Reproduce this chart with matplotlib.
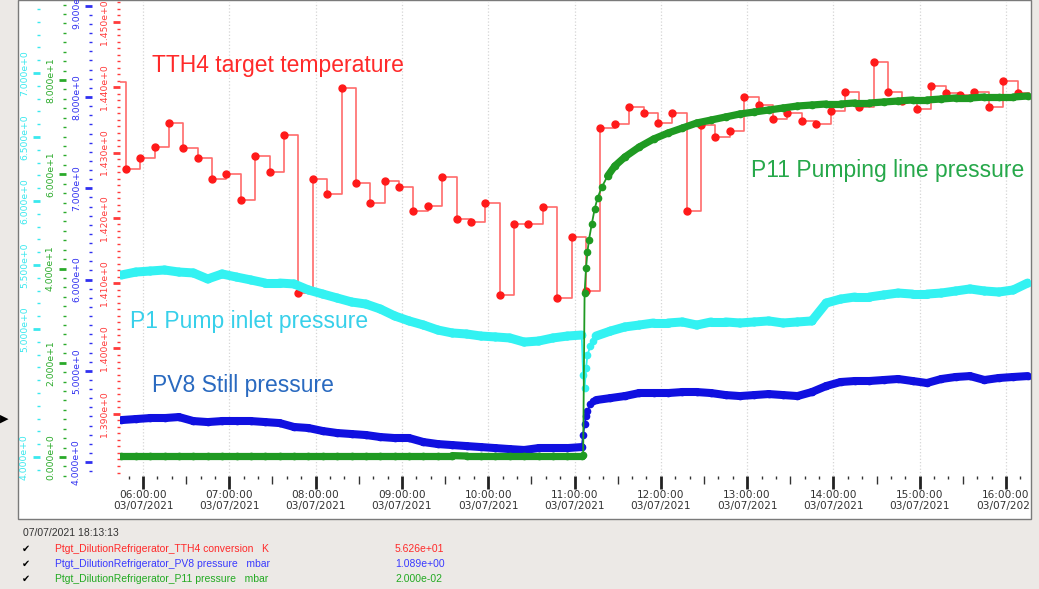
import matplotlib
matplotlib.use('Agg')
import numpy as np
import pandas as pd
import matplotlib.pyplot as plt
import matplotlib.dates as mdates
import matplotlib.ticker as mticker
from matplotlib.collections import LineCollection
from matplotlib.patches import Rectangle
from matplotlib.transforms import Bbox, TransformedBbox

DAY = '2021-07-03 '

# TTH4 target temperature (K), one reading every 10 min
tth4_times = ['05:38', '05:48', '05:58', '06:08', '06:18', '06:28', '06:38', '06:48',
              '06:58', '07:08', '07:18', '07:28', '07:38', '07:48', '07:58', '08:08',
              '08:18', '08:28', '08:38', '08:48', '08:58', '09:08', '09:18', '09:28',
              '09:38', '09:48', '09:58', '10:08', '10:18', '10:28', '10:38', '10:48',
              '10:58', '11:08', '11:18', '11:28', '11:38', '11:48', '11:58', '12:08',
              '12:18', '12:28', '12:38', '12:48', '12:58', '13:08', '13:18', '13:28',
              '13:38', '13:48', '13:58', '14:08', '14:18', '14:28', '14:38', '14:48',
              '14:58', '15:08', '15:18', '15:28', '15:38', '15:48', '15:58', '16:08']
tth4_k = [1.4408, 1.4275, 1.4292, 1.4309, 1.4345, 1.4307, 1.4292, 1.4260, 1.4267, 1.4227,
          1.4295, 1.4270, 1.4327, 1.4085, 1.4260, 1.4237, 1.4399, 1.4253, 1.4223, 1.4257,
          1.4247, 1.4211, 1.4218, 1.4263, 1.4198, 1.4194, 1.4223, 1.4082, 1.4191, 1.4191,
          1.4217, 1.4077, 1.4171, 1.4088, 1.4338, 1.4344, 1.4370, 1.4361, 1.4345, 1.4361,
          1.4211, 1.4342, 1.4324, 1.4333, 1.4385, 1.4373, 1.4351, 1.4361, 1.4348, 1.4344,
          1.4364, 1.4393, 1.4370, 1.4439, 1.4393, 1.4379, 1.4367, 1.4402, 1.4391, 1.4388,
          1.4393, 1.4370, 1.4410, 1.4391]

# shared sample times for the pressure traces
p_times = ['05:45', '05:55', '06:05', '06:15', '06:25', '06:35', '06:45', '06:55', '07:05',
           '07:15', '07:25', '07:35', '07:45', '07:55', '08:05', '08:15', '08:25', '08:35',
           '08:45', '08:55', '09:05', '09:15', '09:25', '09:35', '09:45', '09:55', '10:05',
           '10:15', '10:25', '10:35', '10:45', '10:55', '11:05', '11:06', '11:07', '11:08',
           '11:09', '11:11', '11:13', '11:15', '11:25', '11:35', '11:45', '11:55', '12:05',
           '12:15', '12:25', '12:35', '12:45', '12:55', '13:05', '13:15', '13:25', '13:35',
           '13:45', '13:55', '14:05', '14:15', '14:25', '14:35', '14:45', '14:55', '15:05',
           '15:15', '15:25', '15:35', '15:45', '15:55', '16:05', '16:15']

# P1 pump inlet pressure (mbar)
p1 = [5.422, 5.445, 5.453, 5.461, 5.445, 5.438, 5.391, 5.430, 5.406, 5.383, 5.359, 5.359,
      5.352, 5.305, 5.273, 5.242, 5.211, 5.195, 5.156, 5.102, 5.063, 5.031, 4.992, 4.969,
      4.961, 4.945, 4.938, 4.930, 4.898, 4.906, 4.930, 4.945, 4.953, 4.641, 4.539, 4.695,
      4.797, 4.867, 4.906, 4.945, 4.984, 5.016, 5.031, 5.047, 5.047, 5.055, 5.031, 5.055,
      5.055, 5.047, 5.055, 5.063, 5.047, 5.055, 5.063, 5.203, 5.234, 5.250, 5.250, 5.266,
      5.281, 5.273, 5.273, 5.281, 5.297, 5.313, 5.297, 5.289, 5.305, 5.359]

# PV8 still pressure (mbar)
pv8 = [4.460, 4.471, 4.482, 4.482, 4.493, 4.449, 4.438, 4.449, 4.449, 4.449, 4.438, 4.427,
       4.384, 4.373, 4.340, 4.318, 4.307, 4.296, 4.274, 4.263, 4.263, 4.219, 4.197, 4.186,
       4.175, 4.164, 4.153, 4.142, 4.132, 4.153, 4.153, 4.153, 4.164, 4.296, 4.416, 4.504,
       4.559, 4.636, 4.668, 4.679, 4.701, 4.723, 4.756, 4.756, 4.756, 4.767, 4.767, 4.756,
       4.734, 4.723, 4.734, 4.745, 4.734, 4.723, 4.767, 4.833, 4.877, 4.888, 4.888, 4.899,
       4.910, 4.888, 4.866, 4.910, 4.932, 4.942, 4.899, 4.921, 4.932, 4.942]

# P11 pumping line pressure (mbar)
p11_times = ['05:45', '05:55', '06:05', '06:15', '06:25', '06:35', '06:45', '06:55', '07:05',
             '07:15', '07:25', '07:35', '07:45', '07:55', '08:05', '08:15', '08:25', '08:35',
             '08:45', '08:55', '09:05', '09:15', '09:25', '09:35', '09:45', '09:55', '10:05',
             '10:15', '10:25', '10:35', '10:45', '10:55', '11:05', '11:06', '11:07', '11:08',
             '11:09', '11:10', '11:12', '11:14', '11:16', '11:19', '11:23', '11:28', '11:35',
             '11:45', '11:55', '12:05', '12:15', '12:25', '12:35', '12:45', '12:55', '13:05',
             '13:15', '13:25', '13:35', '13:45', '13:55', '14:05', '14:15', '14:25', '14:35',
             '14:45', '14:55', '15:05', '15:15', '15:25', '15:35', '15:45', '15:55', '16:05',
             '16:15']
p11 = [0.3, 0.3, 0.3, 0.3, 0.3, 0.3, 0.3, 0.3, 0.3, 0.3, 0.3, 0.3, 0.3, 0.3, 0.3, 0.3, 0.3,
       0.3, 0.3, 0.3, 0.3, 0.3, 0.3, 0.3, 0.2, 0.2, 0.2, 0.2, 0.2, 0.2, 0.2, 0.2, 0.2, 0.4,
       34.80, 40.11, 43.50, 46.05, 49.44, 52.63, 54.96, 57.29, 59.63, 61.75, 63.66, 65.78,
       67.48, 68.75, 69.81, 70.88, 71.51, 72.15, 72.79, 73.21, 73.63, 74.06, 74.48, 74.69,
       74.91, 74.91, 75.12, 75.12, 75.33, 75.54, 75.76, 75.76, 75.97, 76.18, 76.18, 76.39,
       76.39, 76.39, 76.60]

legend_rows = [('Ptgt_DilutionRefrigerator_TTH4 conversion', 'K', '5.626e+01', '#ff2a2a'),
               ('Ptgt_DilutionRefrigerator_PV8 pressure', 'mbar', '1.089e+00', '#3a3aff'),
               ('Ptgt_DilutionRefrigerator_P11 pressure', 'mbar', '2.000e-02', '#22aa22')]

W, H = 1039, 589


def fx(px):
    return px / W


def fy(py):
    return 1 - py / H


def to_num(times):
    return mdates.date2num(pd.to_datetime([DAY + t for t in times]))


def sci(v, pos):
    m, e = ('%.3e' % v).split('e')
    return '%se%+d' % (m, int(e))


def side_axis(ax, offset_px, color, ylim, majors, minor_step):
    ax.set_ylim(*ylim)
    for s in ax.spines.values():
        s.set_visible(False)
    ax.spines['left'].set_position(('outward', offset_px * 0.72))
    ax.yaxis.set_ticks_position('left')
    ax.set_yticks(majors)
    ax.yaxis.set_minor_locator(mticker.MultipleLocator(minor_step))
    ax.yaxis.set_major_formatter(mticker.FuncFormatter(sci))
    ax.tick_params(axis='y', which='major', colors=color, length=5, width=2,
                   labelsize=6.7, pad=3, labelrotation=90)
    ax.tick_params(axis='y', which='minor', colors=color, length=2, width=1)
    for lab in ax.get_yticklabels():
        lab.set_va('center')


def band(ax, t, v, color, lw, ms):
    x = np.asarray(t)
    y = np.asarray(v)
    gaps = np.diff(x) * 24 * 60
    segs = [[(x[i], y[i]), (x[i + 1], y[i + 1])] for i in range(len(x) - 1)]
    widths = np.where(gaps >= 5, lw, 1.3)
    ax.add_collection(LineCollection(segs, colors=color, linewidths=widths,
                                     capstyle='round'))
    ax.plot(x, y, 'o', color=color, ms=ms, mec=color)


fig = plt.figure(figsize=(W / 100, H / 100), dpi=100, facecolor='#ece9e6')
fig.patches.append(Rectangle((fx(18), fy(519)), fx(1031) - fx(18), 519 / H,
                             transform=fig.transFigure, facecolor='white',
                             edgecolor='#7a7a7a', lw=1, zorder=-10))

ax = fig.add_axes([fx(120), fy(476), fx(1030) - fx(120), 474 / H])
ax.set_facecolor('none')
ax_c = ax.twinx()
ax_b = ax.twinx()
ax_g = ax.twinx()

t_red = to_num(tth4_times)
t_p = to_num(p_times)
t_g = to_num(p11_times)
xmin = to_num(['05:44'])[0]
xmax = to_num(['16:16:40'])[0]

# red temperature (step trace)
ax.plot(t_red, tth4_k, drawstyle='steps-post', color='#ff6b6b', lw=1.2)
ax.plot([t_red[-1], xmax], [tth4_k[-1], tth4_k[-1]], color='#ff6b6b', lw=1.2)
ax.plot(t_red, tth4_k, 'o', color='#ff1a1a', ms=5)

band(ax_c, t_p, p1, '#33f2f2', 6.5, 4.5)
band(ax_b, t_p, pv8, '#1010e0', 5.8, 4.5)
band(ax_g, t_g, p11, '#1f9a22', 5.2, 4.5)

side_axis(ax, 0, '#ff3b3b', (1.38047, 1.45306),
          [1.39, 1.40, 1.41, 1.42, 1.43, 1.44, 1.45], 0.001)
side_axis(ax_b, 28, '#3030f0', (3.847, 9.041), [4, 5, 6, 7, 8, 9], 0.1)
side_axis(ax_g, 54, '#2aaa2a', (-4.03, 96.55), [0, 20, 40, 60, 80], 2)
side_axis(ax_c, 80, '#3ae8ee', (3.8516, 7.5547), [4.0, 5.0, 5.5, 6.0, 6.5, 7.0], 0.1)

ax.set_xlim(xmin, xmax)
ax.xaxis.set_major_locator(mdates.HourLocator())
ax.xaxis.set_major_formatter(mdates.DateFormatter('%H:%M:%S\n%d/%m/%Y'))
ax.xaxis.set_minor_locator(mdates.MinuteLocator(byminute=[10, 20, 40, 50]))
ax.tick_params(axis='x', which='major', length=9, width=2, colors='#222222',
               labelsize=7.6, labelcolor='#333333', pad=1)
ax.tick_params(axis='x', which='minor', length=2.5, width=1, colors='#333333')
ax.grid(axis='x', which='major', color='#d5d5d5', linestyle=':', lw=0.9)

half = ax.secondary_xaxis('bottom')
half.xaxis.set_major_locator(mdates.MinuteLocator(byminute=[30]))
half.xaxis.set_major_formatter(mticker.NullFormatter())
half.tick_params(axis='x', length=5.5, width=1, colors='#333333')
half.spines['bottom'].set_visible(False)

sans = ['Liberation Sans', 'DejaVu Sans']
fig.text(fx(152), fy(72), 'TTH4 target temperature', color='#ff2a2a', fontsize=16.5,
         family=sans, va='baseline')
fig.text(fx(751), fy(177), 'P11 Pumping line pressure', color='#26a84a', fontsize=16.5,
         family=sans, va='baseline')
fig.text(fx(130), fy(328), 'P1 Pump inlet pressure', color='#38d0ea', fontsize=16.5,
         family=sans, va='baseline')
fig.text(fx(152), fy(392), 'PV8 Still pressure', color='#2a6ac0', fontsize=16.5,
         family=sans, va='baseline')

fig.text(fx(0), fy(419), '\u25b6', color='black', fontsize=8, va='center')

fig.text(fx(23), fy(533), '07/07/2021 18:13:13', color='#333333', fontsize=7.5,
         family=sans, va='center')
for i, (name, unit, val, col) in enumerate(legend_rows):
    yy = fy(549 + 15 * i)
    fig.text(fx(22), yy, '\u2714', color='black', fontsize=7, va='center', family=sans)
    fig.text(fx(55), yy, name + '   ' + unit, color=col, fontsize=7.5, family=sans,
             va='center')
    fig.text(fx(395), yy, val, color=col, fontsize=7.5, family=sans, va='center')

# time labels are clipped by the chart frame, as in the viewer
fig.canvas.draw()
frame = TransformedBbox(Bbox.from_extents(fx(18), fy(519), fx(1031), 1.0),
                        fig.transFigure)
for lab in ax.get_xticklabels():
    lab.set_clip_box(frame)
    lab.set_clip_on(True)

fig.savefig('out.png', dpi=100, facecolor=fig.get_facecolor())
